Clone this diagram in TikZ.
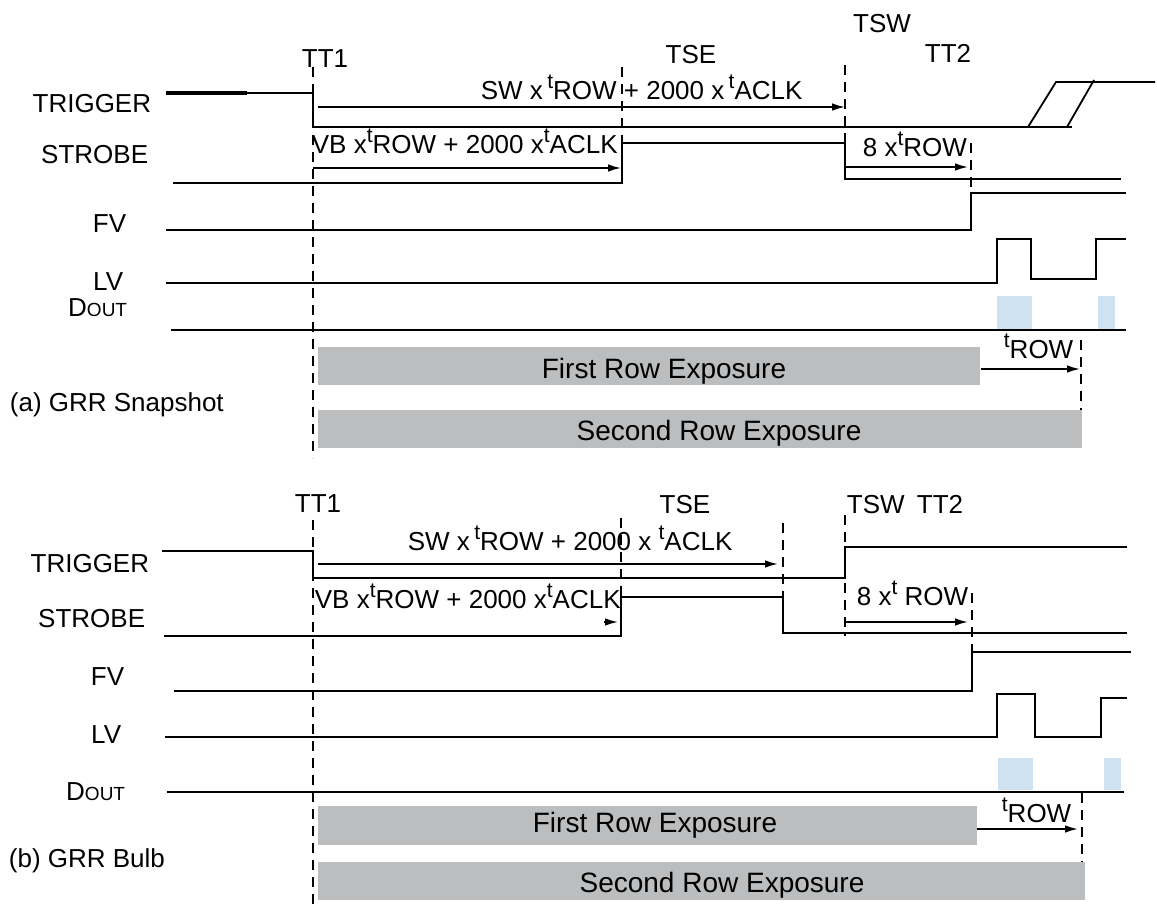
\documentclass[tikz,border=0pt]{standalone}
\usepackage{fontspec}
\setmainfont{Liberation Sans}
\setsansfont{Liberation Sans}
\usepackage{xcolor}
\usetikzlibrary{arrows.meta}
\definecolor{expgray}{RGB}{187,189,191}
\definecolor{datablue}{RGB}{207,226,241}
\newcommand{\tpre}{\raisebox{0.42em}{\fontsize{10.5}{12}\selectfont t}}
\newcommand{\dout}{D{\fontsize{9.5}{11}\selectfont OUT}}

\begin{document}
\begin{tikzpicture}[>={Latex[length=6.5pt,width=3.8pt]},font=\sffamily\fontsize{13}{15}\selectfont,
        x=0.5pt,y=-0.5pt,line width=0.9pt,
        timeline/.style={dash pattern=on 5pt off 3.5pt,line width=0.8pt},
        lbl/.style={inner sep=0pt},
        barlbl/.style={inner sep=0pt,anchor=base,font=\sffamily\fontsize{14}{16}\selectfont}]
        \useasboundingbox (0,0) rectangle (1157,905);
        % (a) GRR Snapshot
        \node [lbl,anchor=base east] (trigA) at (152,112) {TRIGGER};
        \node [lbl,anchor=base east] (strobeA) at (149,163) {STROBE};
        \node [lbl,anchor=base east] (fvA) at (127,232) {FV};
        \node [lbl,anchor=base east] (lvA) at (124,290) {LV};
        \node [lbl,anchor=base east] (doutA) at (128,316) {\dout};
        \node [lbl,anchor=base west] (capA) at (9,411) {(a) GRR Snapshot};
        \node [lbl,anchor=base] (tt1A) at (325,67) {TT1};
        \node [lbl,anchor=base] (tseA) at (691,63) {TSE};
        \node [lbl,anchor=base] (tswA) at (882,32) {TSW};
        \node [lbl,anchor=base] (tt2A) at (948,62) {TT2};
        \draw [timeline] (313,67) -- (313,458);
        \draw [timeline] (622,67) -- (622,143);
        \draw [timeline] (845,65) -- (845,143);
        \draw [timeline] (971,143) -- (971,193);
        \draw [timeline] (1081,340) -- (1081,410);
        \draw [line width=1.6pt] (166,93) -- (247,93);
        \draw (247,93) -- (313,93) -- (313,127) -- (1072,127);
        \draw (1028,127) -- (1056,82) -- (1155,82);
        \draw (1067,127) -- (1094,80);
        \draw (173,183) -- (622,183) -- (622,143) -- (845,143) -- (845,179) -- (1121,179);
        \draw (166,230) -- (971,230) -- (971,193) -- (1126,193);
        \draw (166,283) -- (997,283) -- (997,239) -- (1031,239) -- (1031,279) -- (1096,279) -- (1096,239) -- (1126,239);
        \fill [datablue] (997,296) rectangle (1032,330);
        \fill [datablue] (1098,296) rectangle (1115,330);
        \draw (171,330) -- (1126,330);
        \coordinate (swA-s) at (318,107);
        \coordinate (swA-e) at (845,107);
        \draw [->] (swA-s) -- (swA-e);
        \node [lbl,anchor=base west] (swA) at (480,99) {SW x\,\tpre ROW + 2000 x\,\tpre ACLK};
        \coordinate (vbA-s) at (313,168);
        \coordinate (vbA-e) at (621,168);
        \draw [->] (vbA-s) -- (vbA-e);
        \node [lbl,anchor=base west] (vbA) at (311,153) {VB x\tpre ROW + 2000 x\tpre ACLK};
        \coordinate (eightA-s) at (846,167);
        \coordinate (eightA-e) at (968,167);
        \draw [->] (eightA-s) -- (eightA-e);
        \node [lbl,anchor=base west] (eightA) at (862,156) {8 x\tpre ROW};
        \fill [expgray] (318,347) rectangle (980,385);
        \fill [expgray] (318,410) rectangle (1082,448);
        \node [barlbl] (firstA) at (664,378) {First Row Exposure};
        \node [barlbl] (secondA) at (719,440) {Second Row Exposure};
        \coordinate (rowA-s) at (981,369);
        \coordinate (rowA-e) at (1080,369);
        \draw [->] (rowA-s) -- (rowA-e);
        \node [lbl,anchor=base west] (trowA) at (1003,358) {\tpre ROW};
        % (b) GRR Bulb
        \node [lbl,anchor=base east] (trigB) at (150,572) {TRIGGER};
        \node [lbl,anchor=base east] (strobeB) at (146,627) {STROBE};
        \node [lbl,anchor=base east] (fvB) at (125,685) {FV};
        \node [lbl,anchor=base east] (lvB) at (122,743) {LV};
        \node [lbl,anchor=base east] (doutB) at (126,800) {\dout};
        \node [lbl,anchor=base west] (capB) at (8,867) {(b) GRR Bulb};
        \node [lbl,anchor=base] (tt1B) at (318,512) {TT1};
        \node [lbl,anchor=base] (tseB) at (685,513) {TSE};
        \node [lbl,anchor=base west] (tswB) at (846,513) {TSW};
        \node [lbl,anchor=base east] (tt2B) at (964,513) {TT2};
        \draw [timeline] (313,520) -- (313,905);
        \draw [timeline] (621,518) -- (621,597);
        \draw [timeline] (783,523) -- (783,597);
        \draw [timeline] (845,515) -- (845,636);
        \draw [timeline] (972,593) -- (972,652);
        \draw [timeline] (1082,793) -- (1082,867);
        \draw (162,551) -- (313,551) -- (313,578) -- (845,578) -- (845,547) -- (1127,547);
        \draw (164,636) -- (621,636) -- (621,597) -- (783,597) -- (783,633) -- (1127,633);
        \draw (174,691) -- (972,691) -- (972,652) -- (1131,652);
        \draw (165,737) -- (997,737) -- (997,694) -- (1035,694) -- (1035,737) -- (1101,737) -- (1101,698) -- (1127,698);
        \fill [datablue] (998,758) rectangle (1033,790);
        \fill [datablue] (1104,758) rectangle (1121,790);
        \draw (167,792) -- (1124,792);
        \coordinate (swB-s) at (318,564);
        \coordinate (swB-e) at (778,564);
        \draw [->] (swB-s) -- (swB-e);
        \node [lbl,anchor=base west] (swB) at (407,550) {SW x\,\tpre ROW + 2000 x \tpre ACLK};
        \coordinate (vbB-s) at (604,622);
        \coordinate (vbB-e) at (618,622);
        \draw [->] (vbB-s) -- (vbB-e);
        \node [lbl,anchor=base west] (vbB) at (314,608) {VB x\tpre ROW + 2000 x\tpre ACLK};
        \coordinate (eightB-s) at (846,622);
        \coordinate (eightB-e) at (968,622);
        \draw [->] (eightB-s) -- (eightB-e);
        \node [lbl,anchor=base west] (eightB) at (856,605) {8 x\tpre\ ROW};
        \fill [expgray] (318,806) rectangle (977,845);
        \fill [expgray] (318,862) rectangle (1085,900);
        \node [barlbl] (firstB) at (655,832) {First Row Exposure};
        \node [barlbl] (secondB) at (722,892) {Second Row Exposure};
        \coordinate (rowB-s) at (977,829);
        \coordinate (rowB-e) at (1078,829);
        \draw [->] (rowB-s) -- (rowB-e);
        \node [lbl,anchor=base west] (trowB) at (1001,822) {\tpre ROW};
\end{tikzpicture}
\end{document}
